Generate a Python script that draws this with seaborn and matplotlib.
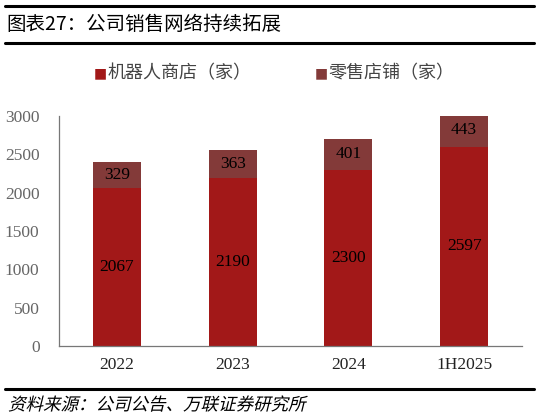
import matplotlib
matplotlib.use("Agg")
import matplotlib.pyplot as plt
import seaborn as sns
import pandas as pd
from matplotlib.textpath import TextPath
from matplotlib.patches import PathPatch
from matplotlib.font_manager import FontProperties
from matplotlib.transforms import Affine2D, IdentityTransform

# data
periods = ["2022", "2023", "2024", "1H2025"]
robot_stores = [2067, 2190, 2300, 2597]
retail_stores = [329, 363, 401, 443]
yticks = [0, 500, 1000, 1500, 2000, 2500, 3000]

robot_color = "#A21818"
retail_color = "#833A39"

df = pd.DataFrame({"period": periods, "robot": robot_stores, "retail": retail_stores})
df["total"] = df["robot"] + df["retail"]

sns.set_style("white")
plt.rcParams["font.family"] = ["Noto Sans CJK SC", "DejaVu Sans"]
serif = ["Liberation Serif", "DejaVu Serif"]

fig = plt.figure(figsize=(5.39, 4.18), dpi=100)
ax = fig.add_axes([0.1095, 0.1722, 0.859, 0.5503])

# stacked bars: total first, robot stores on top of it
sns.barplot(data=df, x="period", y="total", color=retail_color, saturation=1,
            width=0.415, linewidth=0, ax=ax)
sns.barplot(data=df, x="period", y="robot", color=robot_color, saturation=1,
            width=0.415, linewidth=0, ax=ax)

for i, row in df.iterrows():
    ax.text(i, row["robot"] / 2, str(row["robot"]), ha="center", va="center",
            fontsize=12.5, family=serif, color="black")
    ax.text(i, row["robot"] + row["retail"] / 2, str(row["retail"]), ha="center",
            va="center", fontsize=12.5, family=serif, color="black")

ax.set_ylim(0, 3000)
ax.set_xlim(-0.5, 3.5)
ax.set_yticks(yticks)
ax.set_yticklabels([str(v) for v in yticks], family=serif, fontsize=12.5, color="#666666")
ax.set_xticks(range(len(periods)))
ax.set_xticklabels(periods, family=serif, fontsize=12.5, color="#222222")
ax.set_xlabel("")
ax.set_ylabel("")

# x ticks between categories
ax.set_xticks([-0.5, 0.5, 1.5, 2.5, 3.5], minor=True)
ax.tick_params(axis="x", which="major", length=0, pad=8)
ax.tick_params(axis="x", which="minor", direction="in", length=4, color="#777777", width=0.8)
ax.tick_params(axis="y", direction="in", length=4, color="#777777", width=0.8, pad=14)

for s in ["top", "right"]:
    ax.spines[s].set_visible(False)
for s in ["left", "bottom"]:
    ax.spines[s].set_color("#777777")
    ax.spines[s].set_linewidth(0.9)

# legend
fig.text(0.187, 0.825, "■", color=robot_color, fontsize=10, va="center", ha="center",
         family=["DejaVu Sans"])
fig.text(0.2, 0.825, "机器人商店（家）", fontsize=13, va="center", color="#444444")
fig.text(0.597, 0.825, "■", color=retail_color, fontsize=10, va="center", ha="center",
         family=["DejaVu Sans"])
fig.text(0.61, 0.825, "零售店铺（家）", fontsize=13, va="center", color="#444444")

# title and frame lines
fig.add_artist(plt.Line2D([0.01, 0.99], [0.985, 0.985], color="black", lw=2.2))
fig.text(0.012, 0.942, "图表27：公司销售网络持续拓展", fontsize=14, va="center", color="black")
fig.add_artist(plt.Line2D([0.01, 0.99], [0.898, 0.898], color="black", lw=2.2))
fig.add_artist(plt.Line2D([0.01, 0.99], [0.07, 0.07], color="black", lw=2.2))

# slanted source note (CJK font has no italic face), drawn in pixel coords
src = "资料来源：公司公告、万联证券研究所"
tp = TextPath((0, 0), src, prop=FontProperties(family="Noto Sans CJK SC"), size=17.5)
tr = Affine2D().skew_deg(14, 0).translate(8, 418 * 0.033 - 6)
fig.add_artist(PathPatch(tr.transform_path(tp), color="black", lw=0,
                         transform=IdentityTransform()))

fig.savefig("out.png", dpi=100)
